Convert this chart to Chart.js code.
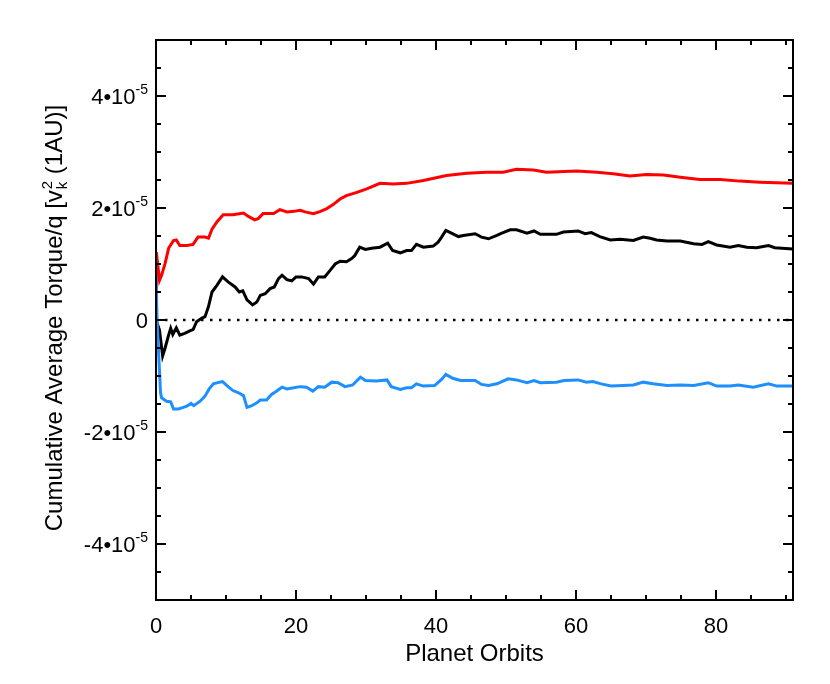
<!DOCTYPE html>
<html lang="en">
<head>
  <meta charset="UTF-8">
  <title>Cumulative Average Torque</title>
  <script src="https://cdn.jsdelivr.net/npm/chart.js"></script>
  <style>
    body { margin: 0; background: #fff; }
  </style>
</head>
<body>
  <canvas id="torqueChart" width="830" height="684"></canvas>

  <script>
    // values in units of 1e-5
    const UNIT = 1e-5;

    const redOrbits = [0, 0.05, 0.5, 0.8, 1.3, 1.8, 2.5, 2.9, 3.4, 4.4, 5.3, 6.0, 7.0, 7.5, 8.0, 8.7, 9.6, 11.0, 12.5, 13.2,
      14.1, 14.6, 15.3, 16.8, 17.7, 18.7, 19.7, 20.6, 21.3, 22.5, 23.5, 24.4, 25.3, 26.3, 27.2, 28.7, 30.1, 32.0, 33.9, 35.8,
      38.2, 41.5, 44.4, 47.2, 49.6, 51.5, 53.9, 55.8, 60.1, 63.0, 65.3, 67.7, 70.1, 72.5, 74.9, 77.7, 80.6, 83.4, 86.3, 91];
    const redTorque = [0, 1.21, 0.71, 0.80, 1.01, 1.28, 1.42, 1.43, 1.33, 1.33, 1.35, 1.48, 1.48, 1.46, 1.62, 1.75, 1.88, 1.88, 1.91, 1.85,
      1.79, 1.81, 1.90, 1.90, 1.97, 1.93, 1.94, 1.96, 1.93, 1.90, 1.94, 1.99, 2.06, 2.16, 2.22, 2.28, 2.34, 2.44, 2.43, 2.44,
      2.49, 2.58, 2.62, 2.64, 2.64, 2.69, 2.68, 2.64, 2.66, 2.64, 2.61, 2.57, 2.60, 2.59, 2.55, 2.51, 2.51, 2.48, 2.46, 2.44];

    const blackOrbits = [0, 0.5, 0.95, 1.3, 1.8, 2.1, 2.4, 2.9, 3.4, 4.1, 4.9, 5.3, 5.8, 6.5, 7.0, 7.5, 8.0, 8.7, 9.5, 10.3,
      11.3, 11.9, 12.4, 13.0, 13.8, 14.4, 14.9, 15.6, 16.3, 16.9, 17.5, 18.0, 18.7, 19.4, 20.0, 20.8, 21.8, 22.5, 23.2, 24.1,
      24.9, 25.6, 26.3, 27.2, 28.0, 28.4, 29.1, 29.9, 30.8, 32.0, 33.1, 33.8, 34.9, 35.8, 36.5, 37.2, 38.2, 39.6, 40.3, 40.8,
      41.4, 42.2, 43.2, 43.9, 45.6, 46.5, 47.5, 48.7, 49.4, 50.6, 51.5, 53.0, 54.0, 54.9, 57.2, 58.2, 60.3, 61.3, 62.2, 63.4,
      64.9, 66.3, 68.2, 69.6, 70.6, 71.5, 73.0, 74.9, 76.8, 78.0, 78.9, 80.1, 82.0, 83.2, 84.4, 85.8, 87.5, 88.4, 91];
    const blackTorque = [0, -0.18, -0.64, -0.50, -0.27, -0.15, -0.26, -0.14, -0.27, -0.24, -0.19, -0.17, -0.03, 0.03, 0.06, 0.24, 0.50, 0.62, 0.77, 0.68,
      0.59, 0.50, 0.52, 0.36, 0.27, 0.32, 0.44, 0.47, 0.56, 0.59, 0.74, 0.80, 0.72, 0.70, 0.77, 0.77, 0.74, 0.64, 0.77, 0.77,
      0.89, 1.00, 1.05, 1.04, 1.10, 1.15, 1.30, 1.26, 1.28, 1.30, 1.37, 1.24, 1.20, 1.24, 1.24, 1.35, 1.30, 1.32, 1.39, 1.48,
      1.60, 1.55, 1.49, 1.51, 1.54, 1.48, 1.45, 1.51, 1.55, 1.61, 1.61, 1.55, 1.59, 1.53, 1.53, 1.57, 1.59, 1.54, 1.56, 1.49,
      1.43, 1.44, 1.42, 1.48, 1.46, 1.43, 1.41, 1.41, 1.36, 1.35, 1.40, 1.34, 1.30, 1.33, 1.30, 1.29, 1.33, 1.29, 1.27];

    const blueOrbits = [0, 0.15, 0.65, 0.8, 1.5, 2.1, 2.5, 3.2, 3.7, 4.4, 5.0, 5.4, 6.3, 7.0, 7.6, 8.2, 9.1, 9.5, 10.3, 11.0,
      11.8, 12.5, 13.0, 13.7, 14.4, 14.9, 15.8, 16.5, 17.1, 18.0, 18.7, 19.7, 20.6, 21.5, 22.4, 23.2, 24.1, 25.1, 26.0, 27.0,
      28.1, 29.2, 29.9, 31.5, 33.0, 33.6, 34.9, 35.8, 36.5, 37.2, 38.2, 39.8, 40.8, 41.4, 42.4, 43.5, 45.6, 46.5, 47.5, 48.7,
      50.3, 51.5, 53.0, 54.0, 54.9, 57.2, 58.3, 60.3, 61.5, 62.4, 63.6, 65.0, 66.7, 68.2, 69.6, 71.0, 73.0, 74.9, 76.8, 78.9,
      80.1, 82.0, 83.2, 85.3, 87.5, 88.7, 91];
    const blueTorque = [0.8, 0, -1.30, -1.39, -1.45, -1.46, -1.59, -1.59, -1.57, -1.54, -1.49, -1.53, -1.45, -1.36, -1.23, -1.14, -1.11, -1.10, -1.19, -1.26,
      -1.30, -1.35, -1.56, -1.53, -1.48, -1.43, -1.43, -1.33, -1.28, -1.20, -1.23, -1.21, -1.19, -1.20, -1.27, -1.19, -1.20, -1.11, -1.12, -1.19,
      -1.16, -1.02, -1.08, -1.09, -1.07, -1.19, -1.24, -1.21, -1.21, -1.14, -1.18, -1.17, -1.06, -0.97, -1.04, -1.08, -1.08, -1.15, -1.17, -1.14,
      -1.05, -1.07, -1.12, -1.08, -1.12, -1.11, -1.08, -1.07, -1.11, -1.10, -1.14, -1.18, -1.17, -1.16, -1.11, -1.14, -1.17, -1.16, -1.17, -1.12,
      -1.18, -1.18, -1.16, -1.20, -1.14, -1.18, -1.18];

    const xTickLabels = [0, 20, 40, 60, 80];
    const yTickLabels = [-4, -2, 0, 2, 4];
    const xMax = 91;

    function toPoints(xs, ys) {
      const n = Math.min(xs.length, ys.length);
      const pts = [];
      for (let i = 0; i < n; i++) pts.push({ x: xs[i], y: ys[i] * UNIT });
      return pts;
    }

    const FONT = "'Liberation Sans', Arial, Helvetica, sans-serif";

    // frame, inward ticks, labels and titles
    const axesPlugin = {
      id: 'idlAxes',
      afterDraw(chart) {
        const ctx = chart.ctx;
        const xs = chart.scales.x, ys = chart.scales.y;
        const a = chart.chartArea;
        ctx.save();
        ctx.strokeStyle = '#000';
        ctx.fillStyle = '#000';
        ctx.lineWidth = 2;
        ctx.strokeRect(a.left, a.top, a.right - a.left, a.bottom - a.top);

        ctx.beginPath();
        for (let v = 0; v <= xMax; v += 5) {
          const px = xs.getPixelForValue(v);
          const len = v % 20 === 0 ? 10 : 5;
          ctx.moveTo(px, a.bottom); ctx.lineTo(px, a.bottom - len);
          ctx.moveTo(px, a.top); ctx.lineTo(px, a.top + len);
        }
        for (let k = -10; k <= 10; k++) {
          const py = ys.getPixelForValue(k * 0.5 * UNIT);
          const len = k % 4 === 0 ? 10 : 5;
          ctx.moveTo(a.left, py); ctx.lineTo(a.left + len, py);
          ctx.moveTo(a.right, py); ctx.lineTo(a.right - len, py);
        }
        ctx.stroke();

        // x tick labels
        ctx.font = '22px ' + FONT;
        ctx.textAlign = 'center';
        ctx.textBaseline = 'alphabetic';
        xTickLabels.forEach(v => {
          ctx.fillText(String(v), xs.getPixelForValue(v), a.bottom + 33);
        });

        // y tick labels like 4•10^-5
        const right = a.left - 8;
        yTickLabels.forEach(v => {
          const py = ys.getPixelForValue(v * UNIT);
          ctx.textAlign = 'right';
          if (v === 0) {
            ctx.font = '22px ' + FONT;
            ctx.fillText('0', right, py + 8);
            return;
          }
          ctx.font = '14px ' + FONT;
          const supW = ctx.measureText('-5').width;
          ctx.fillText('-5', right, py - 2);
          ctx.font = '22px ' + FONT;
          ctx.fillText(v + '\u202210', right - supW, py + 8);
        });

        // x title
        ctx.font = '24px ' + FONT;
        ctx.textAlign = 'center';
        ctx.fillText('Planet Orbits', (a.left + a.right) / 2, a.bottom + 61);

        // y title, rotated
        ctx.translate(62, (a.top + a.bottom) / 2 - 2);
        ctx.rotate(-Math.PI / 2);
        ctx.textAlign = 'left';
        const part1 = 'Cumulative Average Torque/q [v';
        const part3 = ' (1AU)]';
        ctx.font = '24px ' + FONT;
        const w1 = ctx.measureText(part1).width;
        const w3 = ctx.measureText(part3).width;
        ctx.font = '15px ' + FONT;
        const w2 = Math.max(ctx.measureText('2').width, ctx.measureText('k').width) + 1;
        let x0 = -(w1 + w2 + w3) / 2;
        ctx.font = '24px ' + FONT;
        ctx.fillText(part1, x0, 0);
        ctx.font = '15px ' + FONT;
        ctx.fillText('2', x0 + w1 + 1, -10);
        ctx.fillText('k', x0 + w1 + 1, 5);
        ctx.font = '24px ' + FONT;
        ctx.fillText(part3, x0 + w1 + w2, 0);
        ctx.restore();
      }
    };

    const ctx = document.getElementById('torqueChart').getContext('2d');
    new Chart(ctx, {
      type: 'line',
      data: {
        datasets: [
          {
            label: 'zero',
            data: [{ x: 0, y: 0 }, { x: xMax, y: 0 }],
            borderColor: '#000',
            borderWidth: 2.5,
            borderDash: [2.5, 6.5],
            pointRadius: 0,
            order: 4
          },
          {
            label: 'total',
            data: toPoints(blackOrbits, blackTorque),
            borderColor: '#000',
            borderWidth: 3,
            pointRadius: 0,
            tension: 0,
            order: 3
          },
          {
            label: 'outer',
            data: toPoints(redOrbits, redTorque),
            borderColor: '#ff0000',
            borderWidth: 3,
            pointRadius: 0,
            tension: 0,
            order: 2
          },
          {
            label: 'inner',
            data: toPoints(blueOrbits, blueTorque),
            borderColor: '#1e8fff',
            borderWidth: 3,
            pointRadius: 0,
            tension: 0,
            order: 1
          }
        ]
      },
      options: {
        responsive: false,
        animation: false,
        parsing: false,
        layout: { padding: { left: 156, right: 37, top: 40, bottom: 84 } },
        plugins: {
          legend: { display: false },
          tooltip: { enabled: false }
        },
        scales: {
          x: { type: 'linear', min: 0, max: xMax, display: false },
          y: { type: 'linear', min: -5 * UNIT, max: 5 * UNIT, display: false }
        }
      },
      plugins: [axesPlugin]
    });
  </script>
</body>
</html>
